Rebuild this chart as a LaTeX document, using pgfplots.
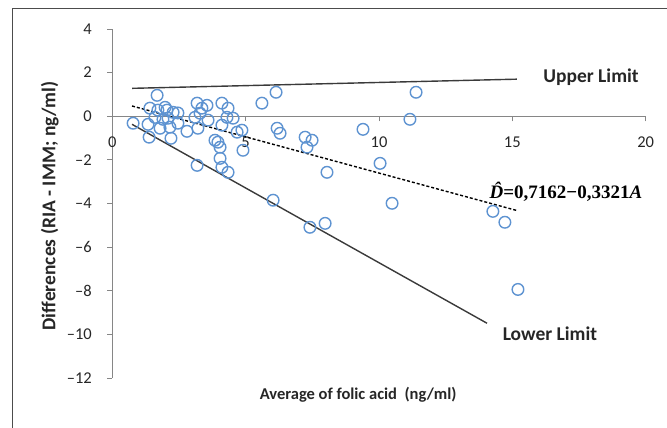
\documentclass[border=0pt]{standalone}
\usepackage{fontspec}
\setmainfont{Carlito}
\newfontfamily\eqfont{Liberation Serif}
\usepackage{pgfplots}
\pgfplotsset{compat=1.18}
\definecolor{ptblue}{HTML}{5E93D1}
\definecolor{axgray}{HTML}{868686}
\definecolor{limgray}{HTML}{3A3A3A}

\begin{document}
\begin{tikzpicture}[x=1pt,y=1pt]
\useasboundingbox (0,0) rectangle (667,-428);
\draw[black!70, line width=1.5pt] (12.5,-430) -- (12.5,-8.5) -- (670,-8.5);
\begin{axis}[
  at={(112.3pt,-378pt)}, anchor=south west,
  scale only axis, width=533.4pt, height=349pt,
  xmin=0, xmax=20, ymin=-12, ymax=4,
  xtick={0,5,10,15,20}, ytick={-12,-10,...,4},
  yticklabels={–12,–10,–8,–6,–4,–2,0,2,4},
  axis x line=middle, axis y line=left,
  axis line style={draw=axgray, line width=1pt, -},
  tick style={draw=axgray, line width=1pt},
  major tick length=5pt, tick align=outside,
  hide obscured x ticks=false, hide obscured y ticks=false,
  /pgf/number format/assume math mode=true,
  tick label style={font=\fontsize{16.5}{19}\selectfont, text=black!85},
  xticklabel style={anchor=north, yshift=-12pt},
  yticklabel style={anchor=east, xshift=-12pt},
  xlabel={Average of folic acid\ \ (ng/ml)},
  ylabel={Differences (RIA - IMM; ng/ml)},
  xlabel style={at={(rel axis cs:0.461,0)}, anchor=center, yshift=-17pt,
    font=\fontsize{16.5}{19}\selectfont\bfseries, text=black!85},
  ylabel style={at={(rel axis cs:-0.117,0.493)}, anchor=center,
    font=\fontsize{19.5}{22}\selectfont\bfseries, text=black!85},
  clip=false,
]

% data points (average, difference)
\addplot[only marks, mark=o, mark size=5.8pt, ptblue, line width=1.4pt] coordinates {
  (0.78,-0.32) (1.68,0.96) (1.41,0.37) (1.71,0.28) (1.98,0.41)
  (1.34,-0.37) (1.60,-0.05) (1.90,-0.14) (1.79,-0.55) (1.38,-0.96)
  (2.20,-1.01) (2.09,-0.09) (2.28,0.18) (2.46,0.15) (2.16,-0.50)
  (2.46,-0.32) (2.80,-0.69) (3.18,0.60) (3.36,0.37) (3.55,0.50)
  (3.10,-0.05) (3.59,-0.18) (3.21,-0.55) (3.85,-1.10) (3.18,-2.25)
  (4.11,0.60) (4.34,0.37) (4.30,-0.05) (4.53,-0.09) (4.11,-0.41)
  (4.68,-0.73) (4.86,-0.64) (4.90,-1.56) (3.96,-1.19) (4.04,-1.42)
  (4.04,-1.93) (4.11,-2.34) (4.34,-2.57) (5.61,0.60) (6.14,1.10)
  (6.18,-0.55) (6.29,-0.78) (7.23,-0.96) (7.49,-1.10) (7.30,-1.42)
  (8.05,-2.57) (6.03,-3.85) (10.04,-2.16) (10.49,-3.99) (7.41,-5.09)
  (7.98,-4.91) (9.40,-0.60) (11.16,-0.14) (11.39,1.10) (14.27,-4.36)
  (14.72,-4.86) (15.21,-7.94) (3.29,0.14) (2.05,0.28)
};

% upper limit
\addplot[limgray, line width=1.4pt] coordinates {(0.74,1.28) (15.17,1.70)};
% regression line
\addplot[black, line width=1.4pt, dash pattern=on 3pt off 2pt] coordinates {(0.74,0.4705) (15.17,-4.3218)};
% lower limit
\addplot[limgray, line width=1.4pt] coordinates {(0.74,-0.37) (14.05,-9.49)};

\node[font=\fontsize{19.5}{22}\selectfont\bfseries, text=black!85] at (axis cs:17.95,1.79) {Upper Limit};
\node[font=\fontsize{19.5}{22}\selectfont\bfseries, text=black!85] at (axis cs:16.41,-9.95) {Lower Limit};
\node[font=\fontsize{19}{22}\selectfont\eqfont\bfseries] at (axis cs:17.01,-3.53)
  {\ooalign{\textit{D}\cr\hidewidth\kern0.12em\raisebox{0.16em}{\textit{\char"02C6}}\hidewidth\cr}=0,7162−0,3321\textit{A}};
\end{axis}
\end{tikzpicture}
\end{document}
